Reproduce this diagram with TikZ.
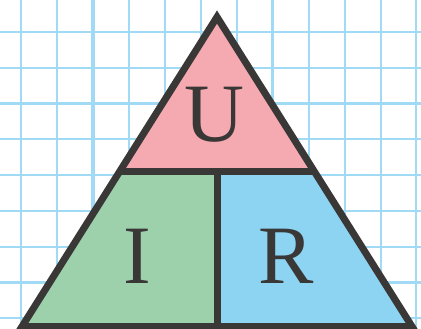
\documentclass[tikz,border=0pt]{standalone}
\usepackage{fontspec}
\setmainfont{Liberation Serif}
\definecolor{gridblue}{RGB}{160,218,244}
\definecolor{pinkU}{RGB}{244,170,176}
\definecolor{greenI}{RGB}{156,209,172}
\definecolor{blueR}{RGB}{141,212,243}
\definecolor{edge}{RGB}{58,55,55}
\tikzset{
  minorline/.style={gridblue, line width=2pt},
  majorline/.style={gridblue, line width=3.2pt},
  part/.style={draw=edge, line width=7pt, line join=miter},
  letter/.style={text=edge, inner sep=0pt, anchor=base, font=\fontsize{83}{83}\selectfont}
}
\begin{document}
\begin{tikzpicture}[x=1pt, y=-1pt]
\useasboundingbox (0,0) rectangle (421,329);
\begin{scope}
\clip (0,0) rectangle (421,329);
\fill[white] (0,0) rectangle (421,329);
% grid
\foreach \i in {0,...,11} {
  \pgfmathsetmacro{\xx}{21+35.95*\i}
  \ifnum\i=2 \draw[majorline] (\xx,0) -- (\xx,329);
  \else\ifnum\i=7 \draw[majorline] (\xx,0) -- (\xx,329);
  \else \draw[minorline] (\xx,0) -- (\xx,329); \fi\fi
}
\foreach \j in {0,...,8} {
  \pgfmathsetmacro{\yy}{32+35.8*\j}
  \ifnum\j=2 \draw[majorline] (0,\yy) -- (421,\yy);
  \else\ifnum\j=7 \draw[majorline] (0,\yy) -- (421,\yy);
  \else \draw[minorline] (0,\yy) -- (421,\yy); \fi\fi
}
% triangle
\coordinate (A) at (217,17);
\coordinate (B) at (22,326.5);
\coordinate (C) at (412,326.5);
\coordinate (L) at (119.6,171.5);
\coordinate (R) at (314.4,171.5);
\coordinate (M) at (217,171.5);
\coordinate (N) at (217,326.5);
\fill[pinkU] (A) -- (R) -- (L) -- cycle;
\fill[greenI] (L) -- (M) -- (N) -- (B) -- cycle;
\fill[blueR] (M) -- (R) -- (C) -- (N) -- cycle;
\draw[part] (L) -- (R);
\draw[part] (M) -- (N);
\draw[part] (A) -- (B) -- (C) -- cycle;
\end{scope}
\node[letter] (u) at (214,142) {U};
\node[letter] (i) at (137,283) {I};
\node[letter] (r) at (286,283) {R};
\end{tikzpicture}
\end{document}
